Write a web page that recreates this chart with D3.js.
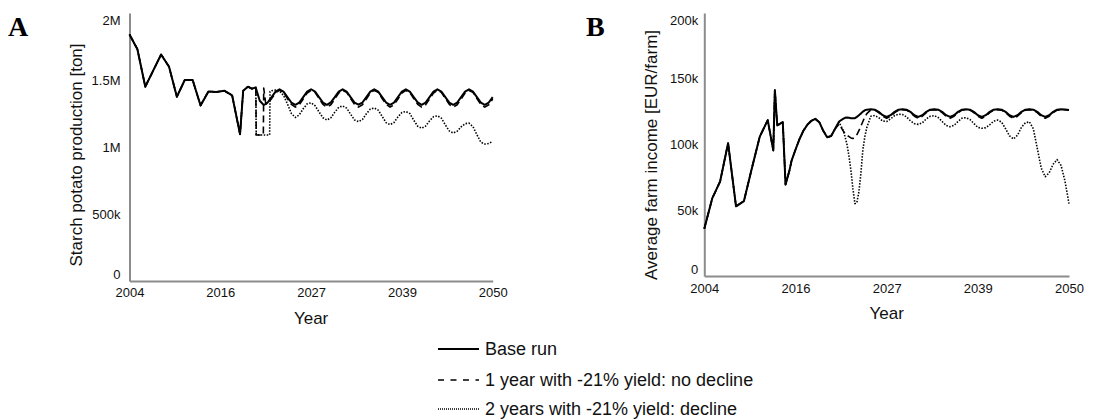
<!DOCTYPE html>
<html>
<head>
<meta charset="utf-8">
<script src="https://cdn.jsdelivr.net/npm/d3@7"></script>
<style>
  body { margin: 0; background: #fff; }
  svg { display: block; }
</style>
</head>
<body>
<svg id="chart" width="1106" height="419"></svg>
<script>
// ---------- shared axis settings ----------
const xTickValues = [2004, 2015.5, 2027, 2038.5, 2050];
const xTickLabels = ["2004", "2016", "2027", "2039", "2050"];

// ---------- Panel A: starch potato production (thousand tons) ----------
const yearsA = [
  2004, 2005, 2006, 2007, 2008, 2009, 2010, 2011, 2012, 2013, 2014, 2015, 2016, 2017, 2018,
  2018.4, 2019, 2019.5, 2020, 2020.05, 2020.5, 2020.95, 2021, 2021.25, 2021.5, 2021.75, 2021.8,
  2022, 2022.5, 2023, 2023.5, 2024, 2024.5, 2025, 2025.5, 2026, 2026.5, 2027, 2027.5, 2028, 2028.5,
  2029, 2029.5, 2030, 2030.5, 2031, 2031.5, 2032, 2032.5, 2033, 2033.5, 2034, 2034.5, 2035, 2035.5,
  2036, 2036.5, 2037, 2037.5, 2038, 2038.5, 2039, 2039.5, 2040, 2040.5, 2041, 2041.5, 2042, 2042.5,
  2043, 2043.5, 2044, 2044.5, 2045, 2045.5, 2046, 2046.5, 2047, 2047.5, 2048, 2048.5, 2049, 2049.5, 2050
];
const baseRunA = [
  1840, 1730, 1450, 1570, 1690, 1600, 1375, 1500, 1500, 1310, 1415, 1410, 1420, 1385, 1095,
  1420, 1450, 1435, 1445, 1430, 1345, 1316, 1315, 1320, 1332, 1352, 1356,
  1372, 1413, 1430, 1413, 1372, 1332, 1315, 1332, 1372, 1413, 1431, 1413, 1372, 1332,
  1315, 1333, 1372, 1413, 1430, 1414, 1372, 1332, 1316, 1332, 1372, 1413, 1431, 1413,
  1372, 1332, 1315, 1332, 1373, 1413, 1430, 1413, 1372, 1333, 1315, 1332, 1372, 1413,
  1430, 1413, 1372, 1332, 1315, 1332, 1372, 1413, 1430, 1413, 1372, 1332, 1315, 1332, 1372
];
const oneYearA = [
  1840, 1730, 1450, 1570, 1690, 1600, 1375, 1500, 1500, 1310, 1415, 1410, 1420, 1385, 1095,
  1420, 1450, 1435, 1445, 1090, 1090, 1090, 1440, 1325, 1326, 1342, 1346,
  1362, 1404, 1425, 1410, 1362, 1318, 1298, 1315, 1358, 1403, 1422, 1408, 1362, 1318,
  1298, 1315, 1358, 1403, 1422, 1408, 1362, 1318, 1298, 1315, 1358, 1403, 1422, 1408,
  1362, 1318, 1298, 1315, 1358, 1403, 1422, 1408, 1362, 1318, 1298, 1315, 1358, 1403,
  1422, 1408, 1362, 1318, 1298, 1315, 1358, 1403, 1422, 1408, 1362, 1318, 1298, 1315, 1358
];
const twoYearsA = [
  1840, 1730, 1450, 1570, 1690, 1600, 1375, 1500, 1500, 1310, 1415, 1410, 1420, 1385, 1095,
  1420, 1450, 1435, 1445, 1090, 1090, 1090, 1090, 1090, 1090, 1090, 1415,
  1420, 1425, 1418, 1385, 1322, 1250, 1220, 1240, 1285, 1322, 1330, 1308, 1262, 1218,
  1201, 1218, 1260, 1296, 1306, 1290, 1245, 1202, 1189, 1205, 1248, 1283, 1291, 1275,
  1228, 1182, 1167, 1183, 1225, 1258, 1265, 1250, 1200, 1155, 1140, 1156, 1195, 1226,
  1233, 1215, 1165, 1120, 1104, 1118, 1150, 1174, 1178, 1152, 1092, 1036, 1022, 1026, 1042
];
const yTicksA = [0, 500, 1000, 1500, 2000];
const yLabelsA = ["0", "500k", "1M", "1.5M", "2M"];

// ---------- Panel B: average farm income (thousand EUR per farm) ----------
const yearsB = [
  2004, 2005, 2006, 2007, 2008, 2009, 2010, 2011, 2012,
  2012.7, 2012.9, 2013.2, 2013.9, 2014.25, 2014.75,
  2015, 2015.5, 2016, 2016.5, 2017, 2017.5, 2018, 2018.5, 2019, 2019.5, 2020, 2020.5, 2021, 2021.5,
  2021.75, 2022, 2022.25, 2022.5, 2022.75, 2023, 2023.25, 2023.5, 2023.75, 2024, 2024.25, 2024.5,
  2025, 2025.5, 2026, 2026.5, 2027, 2027.5, 2028, 2028.5, 2029, 2029.5, 2030, 2030.5, 2031, 2031.5,
  2032, 2032.5, 2033, 2033.5, 2034, 2034.5, 2035, 2035.5, 2036, 2036.5, 2037, 2037.5, 2038, 2038.5,
  2039, 2039.5, 2040, 2040.5, 2041, 2041.5, 2042, 2042.5, 2043, 2043.5, 2044, 2044.5, 2045, 2045.5,
  2046, 2046.5, 2047, 2047.5, 2048, 2048.5, 2049, 2049.5, 2050
];
const baseRunB = [
  36, 59, 72, 101, 53, 57, 82, 106, 118.5,
  95.5, 141.5, 114.5, 117, 69.5, 80.5,
  87.5, 96, 104, 110.5, 115, 118, 119.5, 117, 110.5, 105.5, 106.5, 112, 117.5, 119.5,
  120.3, 120.5, 120.3, 120, 119.9, 120, 121, 122.2, 123.6, 125, 126, 126.5,
  126.8, 126.5, 124.8, 122.3, 121, 122.3, 124.8, 126.5, 126.8, 126.5, 124.8, 122.3, 121, 122.3,
  124.8, 126.5, 126.8, 126.5, 124.8, 122.3, 121, 122.3, 124.8, 126.5, 126.8, 126.5, 124.8, 122.3,
  121, 122.3, 124.8, 126.5, 126.8, 126.5, 124.8, 122.3, 121, 122.3, 124.8, 126.5, 126.8, 126.5,
  124.8, 122.3, 121, 122.3, 124.8, 126.5, 126.8, 126.6, 126.2
];
const oneYearB = [
  36, 59, 72, 101, 53, 57, 82, 106, 118.5,
  95.5, 141.5, 114.5, 117, 69.5, 80.5,
  87.5, 96, 104, 110.5, 115, 118, 119.5, 117, 110.5, 105.5, 106.5, 112, 115.5, 110.5,
  108.5, 107, 106, 105, 104.6, 105.5, 107.5, 110.5, 114, 117.5, 121, 123.5,
  126.3, 126.1, 124.2, 121.5, 120, 121.5, 124.2, 126.1, 126.5, 126.1, 124.2, 121.5, 120, 121.5,
  124.2, 126.1, 126.5, 126.1, 124.2, 121.5, 120, 121.5, 124.2, 126.1, 126.5, 126.1, 124.2, 121.5,
  120, 121.5, 124.2, 126.1, 126.5, 126.1, 124.2, 121.5, 120, 121.5, 124.2, 126.1, 126.5, 126.1,
  124.2, 121.5, 120, 121.5, 124.2, 126.1, 126.5, 126.4, 126.1
];
const twoYearsB = [
  36, 59, 72, 101, 53, 57, 82, 106, 118.5,
  95.5, 141.5, 114.5, 117, 69.5, 80.5,
  87.5, 96, 104, 110.5, 115, 118, 119.5, 117, 110.5, 105.5, 106.5, 112, 117, 111,
  106, 100, 91, 80, 66, 55, 56, 64, 78, 96, 106, 113,
  121.5, 122, 120.5, 117.8, 117.5, 119.5, 122, 123, 122.8, 121, 118, 115.8, 115.3, 116.5,
  119.5, 121.5, 122, 120.5, 117.5, 114.5, 113.5, 114.5, 117.5, 120, 120.4, 119, 116, 113,
  112.3, 112.8, 115, 117.8, 118.6, 117, 112, 106.5, 104.2, 107, 113, 116.5, 117.2, 112,
  97, 82, 75.5, 78.5, 85, 88.5, 84, 72, 55
];
const yTicksB = [0, 50, 100, 150, 200];
const yLabelsB = ["0", "50k", "100k", "150k", "200k"];

// ---------- legend ----------
const legendLabels = [
  "Base run",
  "1 year with -21% yield: no decline",
  "2 years with -21% yield: decline"
];

// line styles: base run solid, one bad year dashed, two bad years dotted
const lineStyles = [
  { stroke: "#000", width: 2, dash: null },
  { stroke: "#000", width: 1.6, dash: "7,4" },
  { stroke: "#000", width: 1.6, dash: "1.5,1.5" }
];

const FONT = "'Liberation Sans', Arial, Helvetica, sans-serif";
const svg = d3.select("#chart");

function drawPanel(p) {
  const x = d3.scaleLinear().domain([2004, 2050]).range([p.left, p.right]);
  const y = d3.scaleLinear().domain([0, p.yMax]).range([p.bottom, p.top]);

  // x axis
  const gx = svg.append("g")
    .attr("transform", `translate(0,${p.bottom})`)
    .call(d3.axisBottom(x)
      .tickValues(xTickValues)
      .tickFormat((d, i) => xTickLabels[i])
      .tickSize(0).tickSizeOuter(0).tickPadding(p.xPad))
    .attr("font-family", FONT).attr("font-size", 13);
  gx.select(".domain").attr("stroke", "#8c8c8c").attr("stroke-width", 2);
  gx.selectAll("text").attr("fill", "#111");

  // y axis; the end labels are kept inside the axis extent
  const gy = svg.append("g")
    .attr("transform", `translate(${p.left},0)`)
    .call(d3.axisLeft(y)
      .tickValues(p.yTicks)
      .tickFormat((d, i) => p.yLabels[i])
      .tickSize(0).tickSizeOuter(0).tickPadding(p.yPad))
    .attr("font-family", FONT).attr("font-size", 13);
  gy.select(".domain").attr("stroke", "#8c8c8c").attr("stroke-width", 2);
  gy.selectAll(".tick text")
    .attr("fill", "#111")
    .attr("y", d => {
      const py = y(d);
      const clamped = Math.max(p.top + 7, Math.min(p.bottom - 7, py));
      return clamped - py;
    });

  // series lines, dotted first so the base run stays on top
  const series = [p.base, p.one, p.two];
  [2, 1, 0].forEach(k => {
    const st = lineStyles[k];
    const line = d3.line()
      .x((d, i) => x(p.years[i]))
      .y(d => y(d));
    svg.append("path")
      .datum(series[k])
      .attr("d", line)
      .attr("fill", "none")
      .attr("stroke", st.stroke)
      .attr("stroke-width", st.width)
      .attr("stroke-linejoin", "round")
      .attr("stroke-dasharray", st.dash);
  });

  // axis titles
  svg.append("text")
    .attr("x", (p.left + p.right) / 2).attr("y", p.xTitleY)
    .attr("text-anchor", "middle").attr("dominant-baseline", "central")
    .attr("font-family", FONT).attr("font-size", 17).attr("fill", "#111")
    .text("Year");
  svg.append("text")
    .attr("transform", `translate(${p.yTitleX},${p.yTitleY}) rotate(-90)`)
    .attr("text-anchor", "middle").attr("dominant-baseline", "central")
    .attr("font-family", FONT).attr("font-size", 17).attr("fill", "#111")
    .text(p.yTitle);

  // panel letter
  svg.append("text")
    .attr("x", p.letterX).attr("y", 36)
    .attr("font-family", "'Liberation Serif', 'Times New Roman', serif")
    .attr("font-weight", "bold").attr("font-size", 28).attr("fill", "#000")
    .text(p.letter);
}

drawPanel({
  letter: "A", letterX: 8,
  left: 129.5, right: 492.7, top: 13, bottom: 281, xPad: 7, yPad: 9, xTitleY: 318,
  yMax: 2000, yTicks: yTicksA, yLabels: yLabelsA,
  yTitle: "Starch potato production [ton]", yTitleX: 76, yTitleY: 155,
  years: yearsA, base: baseRunA, one: oneYearA, two: twoYearsA
});

drawPanel({
  letter: "B", letterX: 586,
  left: 704.3, right: 1069, top: 13, bottom: 276, xPad: 8, yPad: 6, xTitleY: 313,
  yMax: 200, yTicks: yTicksB, yLabels: yLabelsB,
  yTitle: "Average farm income [EUR/farm]", yTitleX: 651, yTitleY: 155,
  years: yearsB, base: baseRunB, one: oneYearB, two: twoYearsB
});

// legend
const legend = svg.append("g").attr("transform", "translate(438,0)");
const legendRows = [349, 380, 409];
legendLabels.forEach((label, k) => {
  const st = lineStyles[k];
  const row = legendRows[k];
  legend.append("line")
    .attr("x1", 0).attr("x2", 41).attr("y1", row).attr("y2", row)
    .attr("stroke", st.stroke).attr("stroke-width", k === 0 ? 2 : 1.6)
    .attr("stroke-dasharray", k === 1 ? "6,6.5" : (k === 2 ? "1,1" : null));
  legend.append("text")
    .attr("x", 47).attr("y", row)
    .attr("dominant-baseline", "central")
    .attr("font-family", FONT).attr("font-size", 18).attr("fill", "#111")
    .text(label);
});
</script>
</body>
</html>
